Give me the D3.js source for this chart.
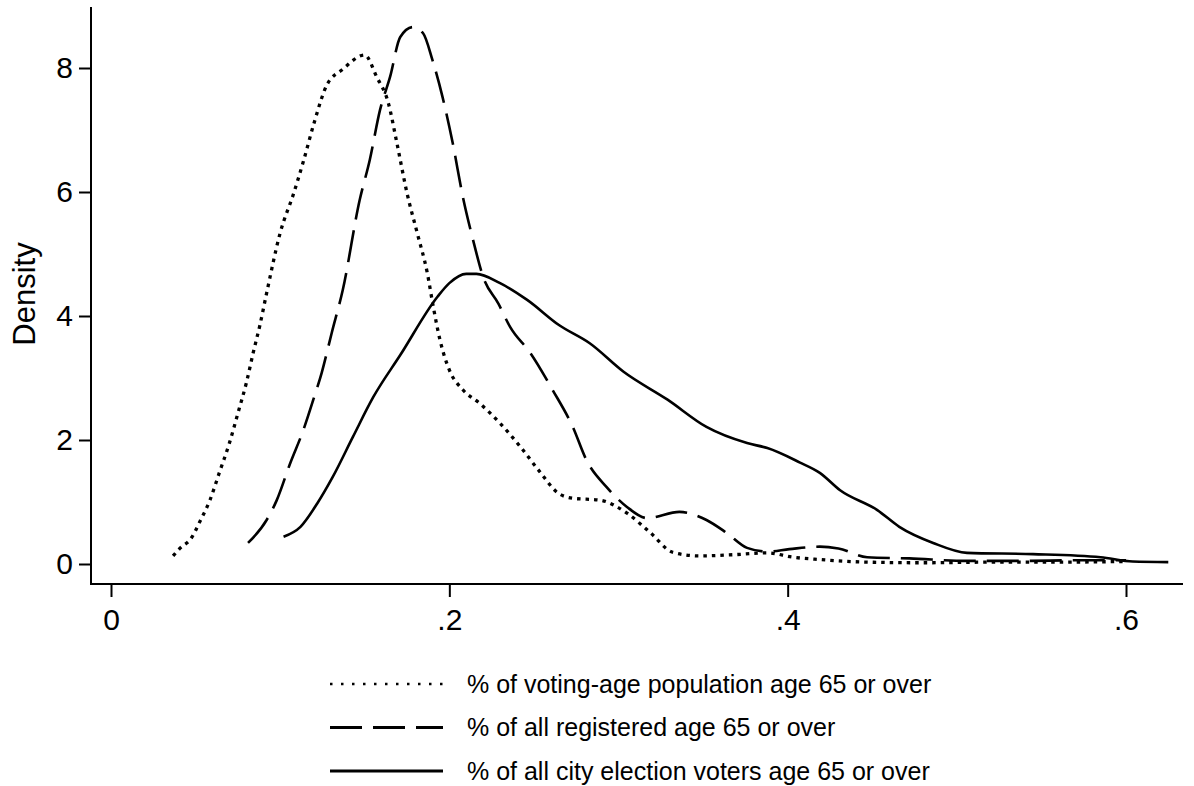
<!DOCTYPE html>
<html>
<head>
<meta charset="utf-8">
<script src="https://cdnjs.cloudflare.com/ajax/libs/d3/7.8.5/d3.min.js"></script>
<style>
	body { margin: 0; background: #fff; }
	svg text { font-family: Arial, "Liberation Sans", sans-serif; fill: #000; }
</style>
</head>
<body>
<div class="chart"></div>
<script>
	// density curves, [share, density]
	var votingAge = [
		[0.0367, 0.13], [0.041, 0.26], [0.047, 0.40], [0.053, 0.71], [0.0585, 1.03],
		[0.064, 1.47], [0.070, 1.95], [0.075, 2.43], [0.080, 2.92], [0.084, 3.40],
		[0.088, 3.85], [0.092, 4.37], [0.100, 5.34], [0.108, 5.98], [0.114, 6.52],
		[0.120, 7.11], [0.1275, 7.72], [0.137, 7.98], [0.150, 8.21], [0.157, 7.86],
		[0.164, 7.43], [0.169, 6.79], [0.175, 5.98], [0.181, 5.34], [0.187, 4.69],
		[0.1905, 4.15], [0.1945, 3.61], [0.200, 3.13], [0.208, 2.81], [0.218, 2.59],
		[0.230, 2.27], [0.242, 1.89], [0.254, 1.47], [0.264, 1.15], [0.273, 1.06],
		[0.289, 1.03], [0.305, 0.82], [0.319, 0.50], [0.332, 0.19], [0.348, 0.13],
		[0.368, 0.15], [0.388, 0.18], [0.403, 0.11], [0.420, 0.07], [0.447, 0.03],
		[0.480, 0.02], [0.520, 0.03], [0.560, 0.03], [0.598, 0.04]
	];
	var registered = [
		[0.081, 0.34], [0.092, 0.71], [0.098, 1.03], [0.106, 1.63], [0.1137, 2.16],
		[0.1196, 2.65], [0.1245, 3.08], [0.1305, 3.73], [0.137, 4.42], [0.147, 5.87],
		[0.153, 6.52], [0.159, 7.32], [0.165, 7.86], [0.171, 8.50], [0.1785, 8.66],
		[0.1845, 8.56], [0.190, 8.13], [0.196, 7.53], [0.202, 6.79], [0.208, 5.92],
		[0.214, 5.23], [0.220, 4.63], [0.229, 4.20], [0.236, 3.82], [0.248, 3.40],
		[0.261, 2.81], [0.273, 2.21], [0.281, 1.68], [0.293, 1.24], [0.305, 0.92],
		[0.317, 0.74], [0.336, 0.84], [0.352, 0.71], [0.364, 0.50], [0.376, 0.26],
		[0.388, 0.20], [0.401, 0.24], [0.419, 0.28], [0.430, 0.25], [0.447, 0.11],
		[0.472, 0.09], [0.506, 0.05], [0.540, 0.05], [0.570, 0.06], [0.600, 0.06]
	];
	var cityVoters = [
		[0.102, 0.44], [0.112, 0.60], [0.122, 0.98], [0.131, 1.40], [0.143, 2.05],
		[0.155, 2.69], [0.171, 3.37], [0.193, 4.31], [0.200, 4.53], [0.210, 4.68],
		[0.216, 4.68], [0.230, 4.53], [0.246, 4.26], [0.265, 3.85], [0.283, 3.56],
		[0.303, 3.10], [0.329, 2.65], [0.352, 2.21], [0.376, 1.95], [0.388, 1.87],
		[0.407, 1.64], [0.419, 1.47], [0.431, 1.19], [0.453, 0.87], [0.466, 0.60],
		[0.486, 0.34], [0.506, 0.18], [0.545, 0.16], [0.585, 0.11], [0.604, 0.04],
		[0.625, 0.03]
	];

	var xTicks = [0, 0.2, 0.4, 0.6];
	var xTickLabels = ["0", ".2", ".4", ".6"];
	var yTicks = [0, 2, 4, 6, 8];
	var seriesNames = [
		"% of voting-age population age 65 or over",
		"% of all registered age 65 or over",
		"% of all city election voters age 65 or over"
	];

	var w = 1194;
	var h = 786;

	var svg = d3.select(".chart")
		.append("svg")
		.attr("width", w)
		.attr("height", h);

	var xScale = d3.scaleLinear()
		.domain([0, 0.6])
		.range([111, 1126]);

	var yScale = d3.scaleLinear()
		.domain([0, 8])
		.range([564, 68]);

	// axes
	var xAxis = d3.axisBottom(xScale)
		.tickValues(xTicks)
		.tickFormat(function (d, i) { return xTickLabels[i]; })
		.tickSize(13)
		.tickSizeOuter(0)
		.tickPadding(12);

	var yAxis = d3.axisLeft(yScale)
		.tickValues(yTicks)
		.tickSize(12)
		.tickSizeOuter(0)
		.tickPadding(6);

	var gx = svg.append("g")
		.attr("transform", "translate(0,584)")
		.call(xAxis);
	gx.select(".domain").remove();
	gx.append("line")
		.attr("x1", 90).attr("x2", 1183)
		.attr("stroke", "#000").attr("stroke-width", 2);

	var gy = svg.append("g")
		.attr("transform", "translate(91,0)")
		.call(yAxis);
	gy.select(".domain").remove();
	gy.append("line")
		.attr("y1", 7).attr("y2", 585)
		.attr("stroke", "#000").attr("stroke-width", 2);

	svg.selectAll(".tick line").attr("stroke", "#000").attr("stroke-width", 2);
	svg.selectAll(".tick text").attr("font-size", 30).attr("font-family", "Arial, 'Liberation Sans', sans-serif");

	svg.append("text")
		.attr("transform", "translate(35,294) rotate(-90)")
		.attr("text-anchor", "middle")
		.attr("font-size", 31)
		.text("Density");

	// lines
	var line = d3.line()
		.x(function (d) { return xScale(d[0]); })
		.y(function (d) { return yScale(d[1]); })
		.curve(d3.curveMonotoneX);

	var dashes = ["3.5,5", "32,11", null];
	var series = [votingAge, registered, cityVoters];

	svg.selectAll(".density")
		.data(series)
		.enter()
		.append("path")
		.attr("class", "density")
		.attr("d", line)
		.attr("fill", "none")
		.attr("stroke", "#000")
		.attr("stroke-width", function (d, i) { return i == 0 ? 3.3 : 2.6; })
		.attr("stroke-dasharray", function (d, i) { return dashes[i]; });

	// legend
	var legend = svg.selectAll(".legend")
		.data(seriesNames)
		.enter()
		.append("g")
		.attr("class", "legend")
		.attr("transform", function (d, i) { return "translate(0," + (684 + i * 43.5) + ")"; });

	legend.append("line")
		.attr("x1", 330).attr("x2", 443)
		.attr("stroke", "#000")
		.attr("stroke-width", function (d, i) { return i == 0 ? 2.5 : 3; })
		.attr("stroke-dasharray", function (d, i) { return i == 0 ? "2.5,8.5" : (i == 1 ? "32,11" : null); });

	legend.append("text")
		.attr("x", 467)
		.attr("dy", "0.35em")
		.attr("font-size", 25)
		.text(function (d) { return d; });
</script>
</body>
</html>
